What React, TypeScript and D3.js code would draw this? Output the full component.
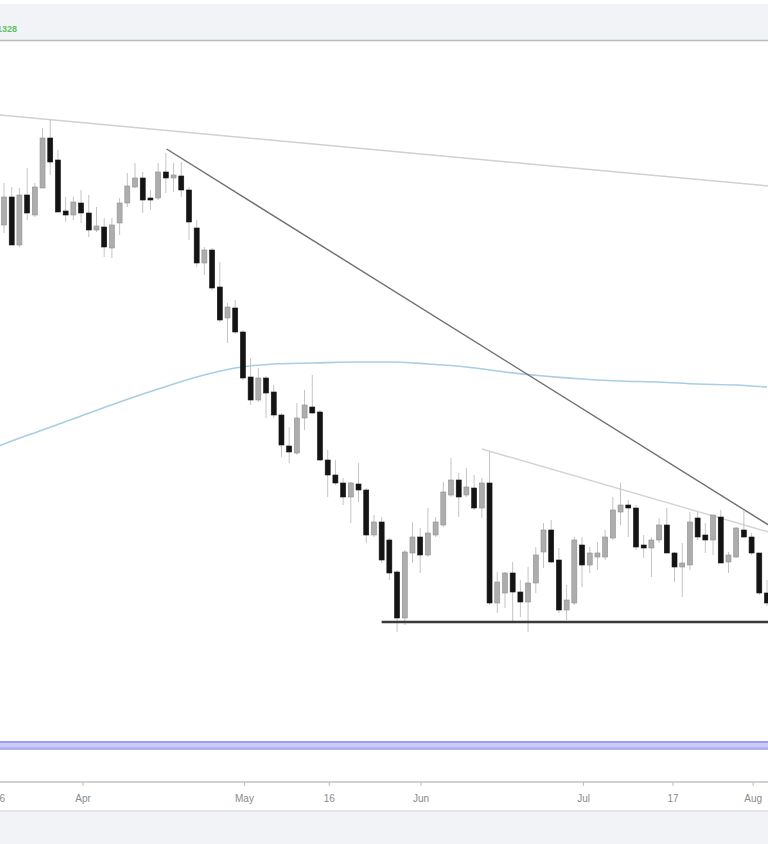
import * as d3 from 'd3'

// candle prices (index 0 = leftmost candle)
const opens = [
  1.575, 1.603, 1.555, 1.605, 1.585, 1.612, 1.662, 1.640, 1.589, 1.585,
  1.597, 1.587, 1.570, 1.573, 1.552, 1.577, 1.597, 1.613, 1.622, 1.602,
  1.602, 1.628, 1.622, 1.624, 1.610, 1.572, 1.537, 1.550, 1.513, 1.482,
  1.492, 1.468, 1.423, 1.400, 1.422, 1.408, 1.385, 1.354, 1.347, 1.382,
  1.393, 1.388, 1.340, 1.325, 1.317, 1.303, 1.316, 1.310, 1.265, 1.278,
  1.260, 1.228, 1.182, 1.247, 1.263, 1.245, 1.265, 1.275, 1.305, 1.320,
  1.305, 1.312, 1.292, 1.317, 1.197, 1.207, 1.227, 1.208, 1.198, 1.217,
  1.248, 1.270, 1.240, 1.190, 1.197, 1.255, 1.235, 1.243, 1.243, 1.262,
  1.288, 1.295, 1.292, 1.255, 1.252, 1.260, 1.275, 1.247, 1.233, 1.235,
  1.282, 1.265, 1.260, 1.283, 1.238, 1.243, 1.270, 1.263, 1.247, 1.207,
]
const highs = [
  1.617, 1.613, 1.612, 1.632, 1.617, 1.672, 1.680, 1.650, 1.603, 1.603,
  1.610, 1.605, 1.593, 1.582, 1.582, 1.602, 1.627, 1.637, 1.628, 1.610,
  1.637, 1.647, 1.637, 1.638, 1.613, 1.580, 1.553, 1.552, 1.538, 1.497,
  1.500, 1.470, 1.442, 1.432, 1.424, 1.415, 1.387, 1.373, 1.397, 1.410,
  1.425, 1.390, 1.350, 1.340, 1.322, 1.318, 1.337, 1.312, 1.285, 1.283,
  1.262, 1.230, 1.250, 1.278, 1.272, 1.292, 1.283, 1.318, 1.342, 1.327,
  1.332, 1.325, 1.322, 1.348, 1.228, 1.228, 1.238, 1.220, 1.233, 1.253,
  1.277, 1.280, 1.252, 1.215, 1.263, 1.263, 1.253, 1.258, 1.270, 1.303,
  1.317, 1.300, 1.295, 1.265, 1.263, 1.282, 1.292, 1.248, 1.257, 1.288,
  1.288, 1.277, 1.285, 1.290, 1.248, 1.273, 1.290, 1.267, 1.247, 1.220,
]
const lows = [
  1.567, 1.555, 1.553, 1.580, 1.583, 1.612, 1.625, 1.588, 1.578, 1.580,
  1.577, 1.563, 1.568, 1.543, 1.542, 1.565, 1.593, 1.612, 1.587, 1.590,
  1.600, 1.607, 1.608, 1.603, 1.560, 1.533, 1.525, 1.510, 1.478, 1.457,
  1.466, 1.420, 1.395, 1.398, 1.382, 1.382, 1.343, 1.337, 1.345, 1.370,
  1.386, 1.339, 1.303, 1.315, 1.295, 1.277, 1.298, 1.257, 1.263, 1.237,
  1.220, 1.168, 1.175, 1.237, 1.227, 1.243, 1.263, 1.273, 1.303, 1.283,
  1.303, 1.290, 1.282, 1.195, 1.187, 1.192, 1.178, 1.183, 1.168, 1.207,
  1.232, 1.237, 1.187, 1.180, 1.195, 1.213, 1.227, 1.230, 1.240, 1.260,
  1.275, 1.263, 1.250, 1.242, 1.223, 1.257, 1.247, 1.218, 1.203, 1.230,
  1.260, 1.247, 1.245, 1.237, 1.227, 1.242, 1.262, 1.245, 1.205, 1.194,
]
const closes = [
  1.603, 1.555, 1.605, 1.587, 1.613, 1.662, 1.638, 1.588, 1.585, 1.598,
  1.587, 1.570, 1.574, 1.553, 1.575, 1.597, 1.614, 1.622, 1.600, 1.600,
  1.628, 1.622, 1.625, 1.610, 1.578, 1.537, 1.550, 1.512, 1.480, 1.493,
  1.468, 1.422, 1.400, 1.422, 1.407, 1.385, 1.355, 1.348, 1.382, 1.395,
  1.387, 1.340, 1.325, 1.317, 1.303, 1.317, 1.310, 1.265, 1.278, 1.240,
  1.227, 1.182, 1.248, 1.263, 1.245, 1.267, 1.278, 1.308, 1.320, 1.303,
  1.313, 1.292, 1.317, 1.197, 1.218, 1.227, 1.208, 1.198, 1.217, 1.245,
  1.270, 1.238, 1.190, 1.200, 1.260, 1.235, 1.247, 1.247, 1.263, 1.290,
  1.295, 1.292, 1.253, 1.252, 1.260, 1.275, 1.247, 1.233, 1.237, 1.278,
  1.263, 1.260, 1.285, 1.237, 1.245, 1.272, 1.263, 1.247, 1.207, 1.197,
]

// moving average, sampled every few candles
const maIndex = [-1, 0, 5, 10, 15, 20, 25, 30, 35, 40, 45, 50, 55, 60, 65, 70, 75, 80, 85, 90, 95, 99]
const maValues = [
  1.353, 1.356, 1.370, 1.384, 1.398, 1.411, 1.423, 1.432, 1.436, 1.437, 1.438,
  1.438, 1.436, 1.433, 1.428, 1.424, 1.421, 1.419, 1.418, 1.416, 1.415, 1.413,
]

// x-axis ticks (candle index) and labels
const tickIndex = [-0.6, 10.25, 31.2, 42.2, 54.1, 75.2, 86.8, 97.2]
const tickLabels = ['16', 'Apr', 'May', '16', 'Jun', 'Jul', '17', 'Aug']

// drawn trend lines: [startIndex, startPrice, endIndex, endPrice]
const longTrend = [-0.6, 1.685, 99.2, 1.614]
const downTrend = [21.1, 1.651, 99.2, 1.275]
const upperRange = [62, 1.351, 99.2, 1.268]
const support = [49, 1.178, 99.2, 1.178]

const W = 768
const H = 844
const plotTop = 42
const plotBottom = 740

const App = () => {
  const x = d3.scaleLinear().domain([-0.52, 99.13]).range([0, W])
  const y = d3.scaleLinear().domain([1.06, 1.758]).range([plotBottom, plotTop])

  const ma = d3
    .line<number>()
    .x((_, i) => x(maIndex[i]))
    .y(d => y(d))
    .curve(d3.curveMonotoneX)

  const bodyW = 5

  const seg = (s: number[], stroke: string, sw: number) => (
    <line x1={x(s[0])} y1={y(s[1])} x2={x(s[2])} y2={y(s[3])} stroke={stroke} strokeWidth={sw} />
  )

  return (
    <div style={{ position: 'absolute', left: 0, top: 0 }}>
      <svg width={W} height={H} style={{ display: 'block', fontFamily: 'Liberation Sans, Arial, sans-serif' }}>
        <rect width={W} height={H} fill="#ffffff" />

        {/* header strip */}
        <rect x={0} y={4} width={W} height={36} fill="#f1f3f7" />
        <line x1={0} x2={W} y1={40.5} y2={40.5} stroke="#b9bbbf" strokeWidth={1.5} />
        <text x={17} y={32} textAnchor="end" fontSize={9} fontWeight="bold" fill="#5cc45c">1.1328</text>

        <defs>
          <clipPath id="plot">
            <rect x={0} y={plotTop} width={W} height={plotBottom - plotTop} />
          </clipPath>
        </defs>

        <g clipPath="url(#plot)">
          {seg(longTrend, '#d0d0d0', 1.5)}
          <path d={ma(maValues) || ''} fill="none" stroke="#a9cde3" strokeWidth={1.6} />
          {seg(downTrend, '#6e6e6e', 1.4)}
          {seg(upperRange, '#d3d3d3', 1.4)}

          {opens.map((o, i) => {
            const c = closes[i]
            const up = c >= o
            const top = y(Math.max(o, c))
            const bot = y(Math.min(o, c))
            const cx = x(i)
            return (
              <g key={i}>
                <line x1={cx} x2={cx} y1={y(highs[i])} y2={y(lows[i])} stroke="#c4c4c4" strokeWidth={1} />
                <rect
                  x={cx - bodyW / 2}
                  y={top}
                  width={bodyW}
                  height={Math.max(2, bot - top)}
                  fill={up ? '#adadad' : '#141414'}
                  stroke={up ? '#8f8f8f' : '#141414'}
                  strokeWidth={0.6}
                />
              </g>
            )
          })}

          {seg(support, '#3a3a3a', 2.5)}
        </g>

        {/* lower panel border */}
        <rect x={0} y={741} width={W} height={9} fill="#c9cbf4" />
        <line x1={0} x2={W} y1={742} y2={742} stroke="#9c9cf0" strokeWidth={2} />
        <line x1={0} x2={W} y1={748.5} y2={748.5} stroke="#a8a8f0" strokeWidth={2} />

        {/* time axis */}
        <line x1={0} x2={W} y1={782} y2={782} stroke="#c2c2c2" strokeWidth={1.5} />
        {tickIndex.map((t, i) => (
          <g key={i}>
            <line x1={x(t)} x2={x(t)} y1={782} y2={786} stroke="#bdbdbd" />
            <text x={x(t)} y={802} textAnchor="middle" fontSize={10} fill="#8a8a8a">
              {tickLabels[i]}
            </text>
          </g>
        ))}
        <line x1={0} x2={W} y1={811} y2={811} stroke="#dcdde0" strokeWidth={1.5} />
        <rect x={0} y={812} width={W} height={H - 812} fill="#f1f3f7" />
      </svg>
    </div>
  )
}

export default App
